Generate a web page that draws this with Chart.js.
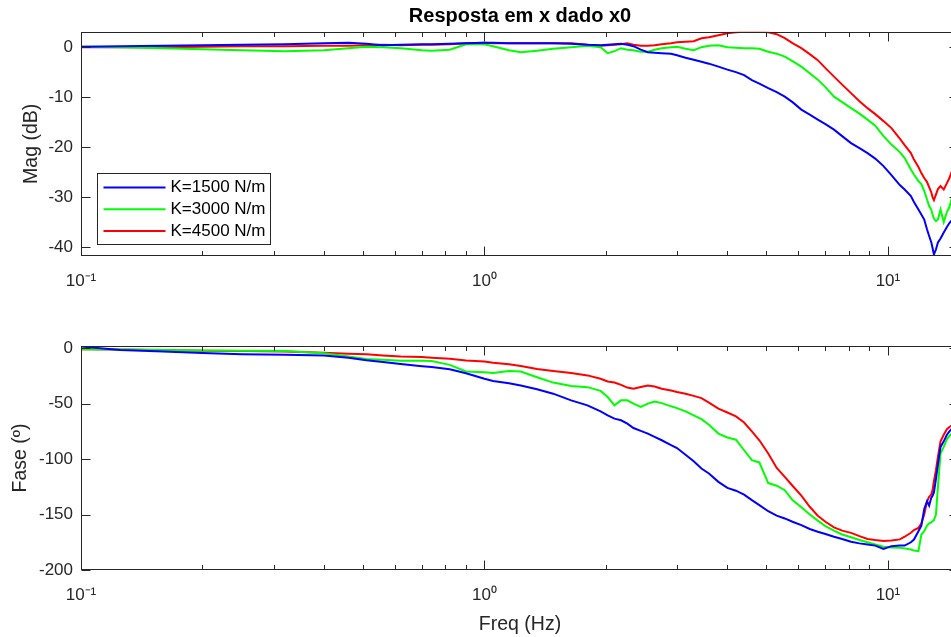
<!DOCTYPE html>
<html><head><meta charset="utf-8">
<script src="https://cdn.jsdelivr.net/npm/chart.js@4.4.0/dist/chart.umd.min.js"></script>
<style>
html,body{margin:0;padding:0;background:#fff;overflow:hidden;width:951px;height:637px}
#w1{position:absolute;left:0;top:0;width:960px;height:320px}
#w2{position:absolute;left:0;top:320px;width:960px;height:317px}
</style></head><body>
<div id="w1"><canvas id="c1" width="960" height="320"></canvas></div>
<div id="w2"><canvas id="c2" width="960" height="317"></canvas></div>
<script>
// ---- data ----
const freq = [0.1,0.125,0.16,0.2,0.25,0.32,0.4,0.46,0.51,0.56,
  0.62,0.7,0.74,0.82,0.9,1.0,1.05,1.15,1.23,1.35,
  1.48,1.64,1.8,1.94,2.02,2.1,2.18,2.26,2.34,2.44,
  2.54,2.64,2.75,2.9,3.0,3.15,3.3,3.45,3.6,3.8,
  4.0,4.2,4.4,4.6,4.8,5.05,5.3,5.55,5.8,6.1,
  6.4,6.7,7.0,7.35,7.7,8.1,8.5,8.9,9.3,9.75,
  10.2,10.7,11.0,11.4,11.6,11.9,12.1,12.3,12.5,12.65,
  12.8,12.9,13.0,13.15,13.3,13.5,13.75,14.0,14.2,14.45,
  14.7,15.0];

const magK1500 = [0.1,0.2,0.3,0.4,0.5,0.6,0.8,0.9,0.7,0.4,
  0.5,0.6,0.6,0.7,0.8,0.9,0.9,0.8,0.8,0.8,
  0.8,0.7,0.5,0.4,0.5,0.6,0.7,0.5,0.2,-0.5,
  -1.0,-1.1,-1.2,-1.3,-1.6,-2.1,-2.5,-2.9,-3.3,-3.9,
  -4.5,-5.0,-5.6,-6.6,-7.3,-8.2,-9.0,-9.9,-11.0,-12.5,
  -13.5,-14.5,-15.4,-16.5,-17.8,-19.2,-20.2,-21.2,-22.3,-23.8,
  -25.6,-27.6,-28.5,-29.8,-31.0,-32.5,-33.5,-34.5,-36.5,-37.8,
  -39.0,-40.2,-41.5,-40.5,-39.1,-38.3,-37.1,-36.0,-35.2,-34.5,
  -33.8,-33.0];
const magK3000 = [0.1,0.0,-0.2,-0.4,-0.6,-0.8,-0.6,-0.2,0.1,0.0,
  -0.2,-0.6,-0.7,-0.5,0.6,0.6,0.2,-0.6,-1.0,-0.7,
  -0.3,0.0,0.3,0.0,-1.2,-0.8,-0.2,-0.5,-0.6,-0.9,
  -0.9,-0.5,-0.2,0.0,0.1,-0.3,-0.6,0.0,0.3,0.4,
  0.0,-0.1,-0.2,-0.2,-0.3,-0.9,-1.3,-1.9,-2.8,-3.9,
  -5.2,-6.5,-8.0,-9.9,-11.0,-12.2,-13.3,-14.5,-15.7,-17.8,
  -19.5,-21.0,-22.2,-24.5,-25.5,-26.8,-27.4,-28.8,-30.5,-31.8,
  -32.5,-33.5,-34.3,-34.8,-34.5,-32.5,-35.0,-33.0,-32.0,-29.8,
  -29.0,-28.0];
const magK4500 = [0.0,0.0,0.0,0.1,0.2,0.2,0.3,0.3,0.4,0.5,
  0.4,0.5,0.5,0.6,0.8,0.9,0.8,0.8,0.8,0.8,
  0.8,0.8,0.5,0.3,0.4,0.5,0.6,0.8,0.5,0.3,
  0.3,0.4,0.6,0.8,1.0,1.1,1.2,1.8,2.0,2.4,
  2.8,3.0,3.1,3.1,3.1,3.0,2.6,1.8,0.8,-0.2,
  -1.4,-2.6,-4.2,-5.9,-7.5,-9.2,-10.8,-12.2,-13.4,-14.8,
  -16.2,-18.3,-19.6,-21.2,-22.5,-24.0,-25.2,-26.2,-27.0,-28.0,
  -29.0,-30.0,-30.6,-29.5,-28.4,-27.8,-28.5,-27.2,-26.2,-24.5,
  -23.5,-22.5];

const phaseK1500 = [1.5,-1.5,-3.0,-4.4,-5.5,-6.0,-6.5,-8.5,-10.8,-12.5,
  -14.2,-16.2,-17.0,-19.0,-22.5,-27.5,-29.5,-31.5,-33.6,-37.0,
  -41.0,-47.0,-51.5,-57.0,-60.5,-63.5,-65.0,-68.0,-72.0,-74.5,
  -77.0,-80.0,-83.0,-87.3,-90.0,-96.0,-102.0,-108.5,-113.0,-120.5,
  -126.0,-128.5,-132.0,-137.0,-141.5,-147.0,-151.0,-153.5,-156.5,-159.5,
  -163.0,-165.5,-167.5,-170.0,-172.0,-174.5,-176.0,-177.0,-178.0,-181.0,
  -178.5,-178.0,-178.0,-175.0,-172.5,-165.0,-160.0,-145.0,-138.0,-142.0,
  -135.0,-133.0,-130.0,-118.0,-105.0,-89.0,-84.0,-78.0,-75.0,-72.0,
  -70.5,-69.5];
const phaseK3000 = [-1.0,-1.2,-1.5,-2.0,-2.3,-2.6,-4.5,-7.5,-9.7,-10.5,
  -11.2,-11.2,-11.5,-15.0,-21.0,-21.7,-22.3,-20.5,-21.0,-26.2,
  -31.0,-34.0,-35.1,-38.5,-44.0,-51.5,-47.0,-47.0,-50.0,-53.0,
  -50.0,-48.0,-49.5,-52.4,-54.0,-57.0,-60.5,-64.0,-69.0,-77.0,
  -80.5,-82.5,-92.0,-101.0,-103.0,-121.6,-124.0,-128.0,-137.0,-143.5,
  -150.0,-155.5,-160.5,-164.5,-168.0,-170.5,-173.0,-175.0,-177.0,-179.0,
  -179.8,-180.0,-180.5,-181.5,-182.5,-183.0,-168.0,-165.0,-160.0,-158.0,
  -157.0,-156.0,-155.0,-150.0,-125.0,-95.0,-89.0,-82.0,-79.0,-76.0,
  -74.0,-72.0];
const phaseK4500 = [-1.0,-1.2,-1.6,-2.3,-2.6,-3.0,-4.0,-5.0,-5.5,-6.5,
  -7.5,-8.0,-8.5,-9.5,-11.0,-12.0,-13.0,-14.5,-16.0,-18.7,
  -20.5,-22.3,-24.5,-27.5,-30.0,-31.0,-33.0,-35.5,-36.6,-35.0,
  -33.6,-34.5,-36.5,-38.1,-39.5,-41.1,-43.0,-45.0,-49.0,-54.5,
  -58.0,-61.5,-67.0,-75.0,-83.0,-95.0,-108.0,-116.0,-124.0,-133.0,
  -143.0,-151.0,-156.5,-161.5,-164.5,-166.5,-169.5,-172.0,-173.0,-173.9,
  -173.5,-172.4,-170.0,-166.4,-164.0,-162.0,-158.0,-150.0,-138.0,-134.0,
  -132.0,-128.0,-120.0,-110.0,-98.0,-84.0,-78.0,-73.0,-71.0,-69.4,
  -68.5,-68.0];

const seriesLabels = ['K=1500 N/m', 'K=3000 N/m', 'K=4500 N/m'];
const seriesColors = ['#0000ff', '#00ff00', '#ff0000'];

const xMajorTicks = [0.1, 1, 10];
const xMajorLabels = ['10\u207B\u00B9', '10\u2070', '10\u00B9'];
const xMinorTicks = [0.2,0.3,0.4,0.5,0.6,0.7,0.8,0.9,2,3,4,5,6,7,8,9];
const magTicks = [-40, -30, -20, -10, 0];
const phaseTicks = [-200, -150, -100, -50, 0];

// ---- styling ----
const FONT = '"Liberation Sans", Arial, Helvetica, sans-serif';
const AXIS_COLOR = '#262626';

function pairs(ys) { return freq.map((f, i) => ({x: f, y: ys[i]})); }
function datasets(list) {
  return list.map((ys, i) => ({
    label: seriesLabels[i], data: pairs(ys), borderColor: seriesColors[i],
    backgroundColor: seriesColors[i], borderWidth: 2, pointRadius: 0,
    tension: 0, fill: false
  }));
}

const frameTicks = {
  id: 'frameTicks',
  afterDatasetsDraw(chart) {
    const {ctx, chartArea: a, scales} = chart;
    ctx.save();
    ctx.strokeStyle = AXIS_COLOR;
    ctx.lineWidth = 1;
    const L = Math.round(a.left) + 0.5, R = Math.round(a.right) - 0.5;
    const T = Math.round(a.top) + 0.5, B = Math.round(a.bottom) - 0.5;
    ctx.beginPath();
    scales.x.ticks.forEach(t => {
      const px = Math.round(scales.x.getPixelForValue(t.value)) + 0.5;
      const len = t.major ? 9 : 4.5;
      ctx.moveTo(px, B); ctx.lineTo(px, B - len);
      ctx.moveTo(px, T); ctx.lineTo(px, T + len);
    });
    scales.y.ticks.forEach(t => {
      const py = Math.round(scales.y.getPixelForValue(t.value)) + 0.5;
      ctx.moveTo(L, py); ctx.lineTo(L + 9, py);
      ctx.moveTo(R, py); ctx.lineTo(R - 9, py);
    });
    ctx.stroke();
    ctx.strokeRect(L, T, R - L, B - T);
    ctx.restore();
  }
};

const boxLegend = {
  id: 'boxLegend',
  afterDraw(chart) {
    const {ctx, chartArea: a} = chart;
    const ds = chart.data.datasets;
    const x0 = Math.round(a.left + 16) + 0.5, w = 173, h = 71;
    const y0 = Math.round(a.bottom - 12.5 - h) + 0.5;
    ctx.save();
    ctx.fillStyle = '#fff';
    ctx.fillRect(x0, y0, w, h);
    ctx.strokeStyle = AXIS_COLOR; ctx.lineWidth = 1;
    ctx.strokeRect(x0, y0, w, h);
    ctx.font = '17px ' + FONT; ctx.textBaseline = 'middle'; ctx.textAlign = 'left';
    ds.forEach((d, i) => {
      const y = y0 + 14 + i * 21.7;
      ctx.strokeStyle = d.borderColor; ctx.lineWidth = 2;
      ctx.beginPath(); ctx.moveTo(x0 + 6, y); ctx.lineTo(x0 + 68, y); ctx.stroke();
      ctx.fillStyle = '#000';
      ctx.fillText(d.label, x0 + 73, y);
    });
    ctx.restore();
  }
};

function xScale(height, titleOpt) {
  return {
    type: 'logarithmic', min: 0.1, max: 15, position: 'bottom',
    grid: {display: false, drawTicks: false}, border: {display: false},
    afterBuildTicks: s => {
      const all = xMinorTicks.concat(xMajorTicks).sort((p, q) => p - q);
      s.ticks = all.map(v => ({value: v, major: xMajorTicks.includes(v)}));
    },
    ticks: {
      autoSkip: false, maxRotation: 0, minRotation: 0, padding: 15,
      color: AXIS_COLOR, font: {family: FONT, size: 17},
      callback: (v) => {
        const k = xMajorTicks.findIndex(m => Math.abs(m - v) < 1e-9);
        return k >= 0 ? xMajorLabels[k] : '';
      }
    },
    title: titleOpt || {display: false},
    afterFit: s => { s.height = height; }
  };
}

function yScale(min, max, tickVals, title, titlePad) {
  return {
    type: 'linear', min: min, max: max, position: 'left',
    grid: {display: false, drawTicks: false}, border: {display: false},
    afterBuildTicks: s => { s.ticks = tickVals.map(v => ({value: v})); },
    ticks: {padding: 8, color: AXIS_COLOR, font: {family: FONT, size: 17},
      callback: v => String(v)},
    title: {display: true, text: title, color: AXIS_COLOR,
      font: {family: FONT, size: 19.5}, padding: {top: titlePad, bottom: 0}},
    afterFit: s => { s.width = 81; }
  };
}

const common = {
  responsive: false, animation: false, devicePixelRatio: 1,
  events: [],
};

new Chart(document.getElementById('c1'), {
  type: 'line',
  data: {datasets: datasets([magK1500, magK3000, magK4500])},
  options: Object.assign({}, common, {
    layout: {padding: {left: 0, right: 1, top: 0, bottom: 0}},
    plugins: {
      legend: {display: false}, tooltip: {enabled: false},
      title: {display: true, text: 'Resposta em x dado x0', color: '#000',
        fullSize: false,
        font: {family: FONT, size: 20, weight: 'bold'}, padding: {top: 4, bottom: 3.7}}
    },
    scales: {
      x: xScale(64),
      y: yScale(-41.8, 3.1, magTicks, 'Mag (dB)', 20)
    }
  }),
  plugins: [frameTicks, boxLegend]
});

new Chart(document.getElementById('c2'), {
  type: 'line',
  data: {datasets: datasets([phaseK1500, phaseK3000, phaseK4500])},
  options: Object.assign({}, common, {
    layout: {padding: {left: 0, right: 1, top: 26, bottom: 0}},
    plugins: {legend: {display: false}, tooltip: {enabled: false}, title: {display: false}},
    scales: {
      x: xScale(67, {display: true, text: 'Freq (Hz)', color: AXIS_COLOR,
        font: {family: FONT, size: 19.5}, padding: {top: 0, bottom: 1}}),
      y: yScale(-200, 2, phaseTicks, 'Fase (\u00BA)', 9.3)
    }
  }),
  plugins: [frameTicks]
});
</script>
</body></html>
